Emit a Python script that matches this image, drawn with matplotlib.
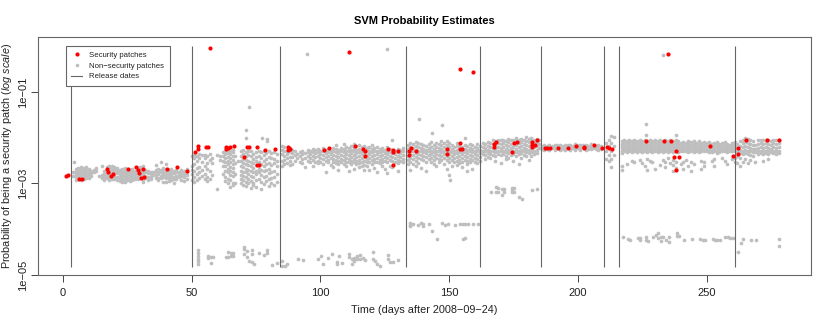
import numpy as np
import matplotlib
matplotlib.use("Agg")
from matplotlib import pyplot as plt
from matplotlib.lines import Line2D

plt.rcParams["font.family"] = ["Liberation Sans", "DejaVu Sans"]
plt.rcParams["mathtext.fontset"] = "custom"
plt.rcParams["mathtext.it"] = "Liberation Sans:italic"
plt.rcParams["mathtext.rm"] = "Liberation Sans"

# all probabilities below are log10(p) * 100
release_days = [3, 50, 84.3, 133.2, 162, 185.7, 210, 216, 261]

sec_days = [1.2, 2, 6.3, 7.3, 17.2, 17.4, 18.5, 19.3, 25.4, 28.4, 29.3, 29.4, 31.2, 30.4, 31.3, 40.3, 44.3, 48.3,
            51.4, 52.3, 52.3, 55.4, 56.2, 63.2, 63.2, 64, 64.9, 66.3, 71.3, 72.2, 70.3, 75.4, 78.3, 82.5, 75.2, 76.2,
            87.3, 87.3, 88.2, 87.7, 101.3, 103.3, 113.3, 116.4, 117.3, 117.3, 126.3, 128.3, 128.3, 130.3, 128.3,
            135.3, 134.4, 134.4, 137.2, 149.3, 149.3, 154.3, 154.3, 155.2,
            167.3, 168.3, 167.3, 175.3, 176.4, 174.3, 182.3, 184.2, 182.3, 183.3, 182.3,
            187.2, 188.2, 189.3, 192.3, 196.3, 199.3, 202.3, 202.3, 206.3, 209.3, 211.2, 212.2, 213.3,
            226.3, 233.3, 236.3, 251.2, 238.2, 237.4, 239.3, 238.2, 260.4,
            262.3, 262.3, 265.3, 273.4, 278.3, 57.1, 111.1, 154.2, 159.3, 235]
sec_vals = [-283, -282, -291, -290, -269, -275, -283, -280, -268, -265, -271, -277, -268, -289, -286, -268, -264, -272,
            -232, -219, -224, -220, -221, -224, -220, -222, -220, -219, -221, -221, -243, -221, -226, -224, -259, -259,
            -220, -226, -224, -222, -227, -222, -219, -224, -230, -240, -224, -226, -231, -228, -259,
            -222, -229, -237, -230, -225, -236, -211, -225, -225,
            -213, -210, -220, -211, -210, -232, -210, -205, -220, -217, -217,
            -223, -223, -223, -222, -222, -219, -221, -223, -216, -222, -221, -222, -224,
            -208, -208, -208, -218, -230, -243, -243, -270, -240,
            -222, -235, -204, -205, -204, -5, -12, -49, -57, -16]

# stray grey points far from the main band
stray_days = [94.8, 125.9, 233, 72.3, 71.2, 71.2, 77.3, 79.2, 79.2, 4.3, 150.3, 147.3, 143.5, 138.3, 226.3, 226.3, 238.3]
stray_vals = [-16, -7, -20, -132, -184, -200, -200, -202, -208, -252, -293, -173, -190, -160, -169, -194, -194]

# lower clusters
low_days = [52.3, 52.3, 52.3, 52.3, 52.3, 52.3, 56.5, 56.5, 57.4, 57.4, 58.4, 63.3, 64.2, 64.2, 65.1, 65.1, 66.1, 66.1,
            70.3, 70.3, 70.3, 71.4, 71.4, 73.3, 73.3, 72.4, 74.2, 73.3, 76.3, 78.2, 79.4, 79.4, 81.3, 83.3,
            85.1, 85, 86.2, 87.2, 91.2, 93.4, 99.2, 100.2, 101.1, 103.1, 104.4, 106.3, 106.3, 107.4, 108.4,
            111.2, 111.2, 112.1, 112.1, 113.2, 113.2, 114.1, 114.1, 115.4, 115.4, 116.4, 117.3, 120.3, 120.3, 121.2, 122.1, 123.1,
            126.1, 126.1, 127, 128.3, 130.3,
            134.8, 134.8, 134.8, 136.1, 138, 139.1, 140, 140, 142.3, 143.2, 145.3, 147.4, 148.4, 149.4, 152.3, 154.2, 155.3, 156.2, 157.5, 159.4, 161.4, 155.3, 156.2,
            166.3, 168.2, 168.2, 169.1, 169.1, 170.4, 170.4, 171.3, 171.3, 174.3, 174.3, 174.3, 175.3, 175.3, 177.3, 178.2, 182.3, 184.3,
            217.4, 219.4, 220.3, 223.3, 224.2, 224.2, 226.4, 226.4, 227.4, 229.3, 230.2, 231.3, 231.3, 232.3, 232.3, 233.2, 234.3, 235.3, 235.3,
            238.4, 238.4, 239.3, 241.4, 244.4, 247.5, 248.5, 249.4, 252.4, 253.3, 254.2, 255.2, 257.2, 258.2, 259.1, 260.4,
            262.4, 263.4, 264.3, 267.3, 269.2, 278.3, 278.3]
low_vals = [-446, -452, -459, -466, -470, -477, -459, -462, -460, -473, -460, -461, -449, -461, -452, -459, -452, -459,
            -439, -444, -455, -448, -461, -446, -455, -470, -477, -472, -452, -457, -446, -452, -479, -473,
            -470, -481, -481, -476, -466, -468, -466, -459, -475, -462, -455, -472, -477, -459, -473,
            -455, -461, -466, -475, -462, -470, -459, -466, -457, -466, -462, -468, -450, -466, -470, -477, -481,
            -457, -466, -472, -472, -468,
            -386, -390, -393, -388, -390, -386, -388, -393, -388, -404, -422, -387, -390, -389, -391, -389, -389, -388, -388, -388, -388, -421, -420,
            -318, -307, -319, -309, -318, -311, -326, -312, -318, -309, -315, -319, -309, -319, -330, -335, -315, -313,
            -417, -421, -424, -419, -419, -424, -417, -424, -426, -417, -412, -408, -419, -417, -425, -417, -423, -417, -428,
            -408, -414, -415, -423, -421, -421, -424, -424, -421, -423, -423, -423, -417, -417, -419, -419,
            -450, -430, -421, -424, -424, -421, -436]

# main grey band, one list per day starting at the given day
seg1_start = 4
seg1_cols = [[-276, -283], [-268, -274, -280, -286, -292], [-266, -272, -278, -284, -290], [-264, -270, -276, -282, -288, -293],
             [-266, -272, -279, -285, -291], [-264, -270, -277, -283, -289], [-268, -274, -281, -287], [-272, -278, -284],
             [-270, -276], [-266, -272], [-284], [-262, -282, -288], [-272, -280, -286, -292],
             [-264, -270, -276, -282, -288], [-262, -268, -274, -280, -286, -292], [-262, -267, -273, -279, -285, -290], [-264, -270, -276, -284, -291],
             [-266, -272, -278, -285, -292], [-270, -276, -282, -288, -294], [-268, -274, -280, -286, -292, -296], [-266, -272, -278, -284, -290, -297],
             [-268, -274, -281, -287, -293], [-270, -276, -282, -288, -295], [-268, -275, -281, -287, -292], [-272, -278, -284, -290],
             [-266, -272, -279, -285, -291], [-264, -270, -276, -282], [-262, -272, -278, -284, -290, -296], [-270, -276, -283, -289], [-272, -278, -285, -292],
             [-274, -280, -286, -291], [-276, -282], [-260, -270, -276, -282, -288], [-268, -274, -280, -287, -293], [-254, -270, -276, -283, -289],
             [-266, -272, -279, -285, -296], [-258, -268, -274, -281, -288, -297], [-270, -276, -282, -289, -295], [-268, -274, -281, -288, -293],
             [-272, -278, -285, -291, -298], [-270, -276, -283, -290], [-274, -280, -286], [-270, -277, -283, -292], [-272, -279, -286, -294],
             [-268, -275, -282, -290]]

seg2_start = 50
seg2_cols = [[-240, -262, -270, -280, -292], [-237, -244, -258, -272, -285, -296], [-240, -250, -266, -280, -292], [-235, -245, -265, -275, -288],
             [-238, -252, -270, -283], [-237, -244, -262, -280, -290], [-240, -255, -268, -285, -295], [-236, -248, -272, -290],
             [-244, -256, -282], [], [-312, -238], [-240, -248], [-232, -240, -250, -262, -280],
             [-228, -236, -244, -252, -262, -272, -285, -295], [-226, -234, -242, -250, -258, -268, -276, -290, -300], [-228, -236, -244, -254, -264, -272, -282, -292, -308],
             [-226, -232, -240, -248, -258, -266, -274, -284, -298, -304], [-240, -255, -280, -300], [-250], [-230, -240, -250, -262, -272, -282, -290, -300],
             [-226, -236, -246, -256, -264, -274, -284, -292, -304], [-232, -240, -248, -258, -268, -276, -286, -296, -306], [-228, -238, -250, -260, -270, -280, -290, -300],
             [-230, -240, -252, -262, -272, -284, -294, -310], [-236, -246, -256, -266, -276, -286, -298, -304], [-232, -242, -250, -260, -272, -280, -292, -308],
             [-228, -240, -254, -268, -276, -290], [-232, -244, -258, -270, -282, -296, -312], [-230, -238, -250, -262, -272, -286, -302], [-234, -246, -258, -270, -284, -294],
             [-230, -242, -256, -268, -278, -290, -306], [-234, -244, -260, -276, -288, -298], [-232, -246, -256, -272, -286, -304], [-236, -250, -262, -280, -296]]

seg3_start = 85
seg3_cols = [[-218, -226, -236, -250, -262], [-220, -230, -240, -248, -258], [-228, -236, -244, -256], [-232, -242, -250, -260],
             [-226, -234, -242, -258], [-230, -238, -250], [-236, -244], [-232, -240, -252], [-228, -236, -246, -256], [-234, -244, -264],
             [-226, -232, -240, -250], [-228, -236, -244, -254], [-224, -232, -240, -248, -262], [-226, -234, -242, -252], [-224, -232, -240, -250, -256],
             [-228, -236, -244, -252], [-222, -230, -238, -246, -258], [-226, -234, -242, -250, -274], [-224, -232, -240, -248, -254], [-228, -236, -244, -260],
             [-222, -230, -238, -246, -254, -264], [-216, -224, -232, -240, -248, -256], [-226, -234, -242, -250, -258, -270], [-222, -230, -238, -246, -254],
             [-214, -224, -232, -240, -248, -258], [-220, -228, -236, -244, -252, -262], [-222, -230, -238, -246, -254, -272], [-218, -226, -234, -242, -250, -258],
             [-214, -222, -230, -238, -246, -254, -268], [-218, -226, -234, -242, -250, -258], [-216, -224, -232, -240, -248, -256, -264], [-220, -228, -236, -244, -252, -262],
             [-218, -226, -234, -242, -250, -260, -270], [-222, -230, -238, -246, -254, -262], [-220, -228, -236, -244, -252, -270], [-216, -224, -232, -240, -248, -258],
             [-222, -230, -238, -246, -254, -266], [-220, -228, -236, -244, -252, -276], [-224, -232, -240, -248, -256], [-222, -230, -238, -246, -254, -262],
             [-226, -234, -242, -250, -268], [-220, -228, -236, -244, -252, -278], [-224, -232, -240, -248, -262], [-206, -226, -234, -242, -250, -264], [-228, -236, -244, -252],
             [-224, -232, -240, -248, -256, -272], [-226, -234, -242, -250], [-222, -230, -238, -246, -254]]

seg4_start = 134
seg4_cols = [[-216, -224, -232, -240, -248, -258], [-212, -220, -228, -236, -244, -252, -270], [-214, -222, -230, -238, -246, -258], [-210, -218, -226, -234, -242, -250, -262],
             [-212, -220, -228, -236, -244, -256], [-214, -222, -230, -238, -246, -266], [-216, -224, -232, -240, -248], [-218, -226, -234, -242, -252, -272], [-214, -222, -230, -238, -246],
             [-210, -220, -228, -236, -244, -254], [-216, -224, -232, -240, -248, -258], [-212, -220, -228, -236, -244, -262], [-214, -222, -230, -238, -246, -254], [-208, -216, -224, -232, -240, -248],
             [-212, -220, -228, -236, -244, -258], [-208, -216, -224, -232, -240, -248, -268], [-212, -220, -228, -236, -244, -252, -282], [-216, -224, -232, -240, -248, -262], [-220, -228, -236, -244, -254],
             [-212, -218, -226, -234, -242, -250, -260], [-216, -224, -232, -240, -248, -256], [-220, -228, -236, -244, -252, -264], [-200, -216, -224, -232, -240, -248], [-218, -226, -234, -242, -250, -258, -272],
             [-214, -222, -230, -238, -246, -254], [-216, -224, -232, -240, -248, -268], [-220, -228, -236, -244, -252], [-214, -222, -230, -238, -246, -256], [-218, -226, -234, -242, -250]]

seg5_start = 163
seg5_cols = [[-212, -220, -228, -236], [-214, -222, -230, -238, -246], [-210, -218, -226, -234, -242], [-212, -220, -228, -236, -244], [-206, -214, -222, -230, -238],
             [-208, -216, -224, -232, -240, -250], [-204, -212, -220, -228, -236], [-206, -214, -222, -230, -238, -256], [-204, -212, -220, -228, -236], [-208, -216, -224, -232, -240, -246],
             [-202, -210, -218, -226, -234, -244], [-206, -214, -222, -230, -238], [-204, -212, -220, -228, -236, -250], [-200, -208, -216, -224, -232, -240], [-204, -212, -220, -228, -236, -258],
             [-202, -210, -218, -226, -234, -244], [-206, -214, -222, -230, -238], [-198, -208, -216, -224, -232, -240], [-202, -210, -218, -226, -234, -248], [-200, -208, -216, -224, -232, -240],
             [-204, -212, -220, -228, -236], [-202, -210, -218, -226, -234], [-206, -214, -222]]

seg6_start = 186
seg6_cols = [[-218, -224], [-216, -222, -227], [-218, -224], [-216, -222, -226], [-218, -223], [-215, -221, -226], [-217, -223], [-216, -222, -226], [-218, -224], [-215, -221, -226],
             [-217, -222], [-216, -222, -227], [-218, -223], [-214, -220, -226], [-216, -222], [-215, -221, -226], [-217, -223], [-216, -222, -227], [-218, -224], [-214, -220, -225],
             [-216, -222], [-218, -224], [-216, -222, -226], [-218, -224]]

seg7_start = 211
seg7_cols = [[-211, -229, -247], [-204, -218, -237, -251], [-196, -211, -229, -247, -264], [-199, -218, -237]]

seg8_start = 217
seg8_cols = [[-208, -213, -218, -223, -228, -233, -262, -270], [-206, -212, -218, -224, -230], [-208, -214, -220, -226, -232, -258], [-206, -212, -218, -224, -230], [-208, -214, -220, -226, -232, -250],
             [-206, -212, -218, -224, -230, -254], [-208, -214, -220, -226, -232], [-206, -212, -218, -224, -230, -248], [-208, -214, -220, -226, -232, -256], [-206, -212, -218, -224, -230, -262],
             [-208, -214, -220, -226, -232, -246, -270], [-206, -212, -218, -224, -230, -250], [-208, -214, -220, -226, -232, -254], [-206, -212, -218, -224, -230, -268], [-208, -214, -220, -226, -232],
             [-206, -212, -218, -224, -230, -260], [-208, -214, -220, -226, -232, -248], [-206, -212, -218, -224, -230, -252, -264], [-208, -214, -220, -226, -232, -244], [-206, -212, -218, -224, -230, -256],
             [-208, -214, -220, -226, -232, -248, -260, -272], [-206, -212, -218, -224, -230, -254, -266], [-208, -214, -220, -226, -232], [-212, -218, -224, -230, -258], [-210, -216, -222, -228, -252, -268],
             [-212, -218, -224, -230, -248], [-208, -214, -220, -226, -232, -262], [-210, -216, -222, -228, -252, -272], [-208, -214, -220, -226, -232, -258], [-212, -218, -224, -230],
             [-208, -214, -220, -226, -232], [-212, -218, -224, -230, -250, -268], [-210, -216, -222, -228, -254, -262], [-212, -218, -224, -230], [-210, -216, -222, -228, -232],
             [-214, -220, -226, -232, -250], [-212, -218, -224, -230, -246, -262], [-210, -216, -222, -228, -234], [-214, -220, -226, -232], [-212, -218, -224, -230, -244],
             [-210, -216, -222, -228, -250], [-214, -220, -226, -232, -258], [-216, -222, -228], [-212, -218, -224, -230, -246], [-210, -216, -222, -228, -244, -252]]

seg9_start = 262
seg9_cols = [[-214, -226, -232, -240, -256], [-208, -218, -226, -234, -244, -262], [-204, -212, -220, -228, -236, -252], [-200, -210, -218, -226, -234, -246], [-202, -212, -220, -228, -236, -256],
             [-206, -214, -222, -230, -238, -248], [-208, -216, -224, -232, -240], [-216, -224, -232, -252], [-206, -214, -222, -230, -236], [-204, -212, -220, -228, -234],
             [-206, -214, -222, -230, -236, -250], [-204, -212, -220, -228, -234], [-206, -214, -222, -230, -236, -246], [-208, -216, -224, -232], [-204, -212, -220, -228, -234],
             [-206, -214, -222, -230, -236], [-204, -212, -220, -228, -234]]

segments = [(seg1_start, seg1_cols), (seg2_start, seg2_cols), (seg3_start, seg3_cols), (seg4_start, seg4_cols), (seg5_start, seg5_cols),
            (seg6_start, seg6_cols), (seg7_start, seg7_cols), (seg8_start, seg8_cols), (seg9_start, seg9_cols)]

grey_x = list(stray_days) + list(low_days)
grey_y = list(stray_vals) + list(low_vals)
for start, cols in segments:
    for i, col in enumerate(cols):
        for v in col:
            grey_x.append(start + i)
            grey_y.append(v)

grey_p = 10.0 ** (np.array(grey_y) / 100.0)
sec_p = 10.0 ** (np.array(sec_vals) / 100.0)

fig = plt.figure(figsize=(8.3, 3.23), dpi=100)
ax = fig.add_axes([38 / 830, 1 - 275 / 323, (810.5 - 38) / 830, (275 - 37.5) / 323])

ax.scatter(grey_x, grey_p, s=7, color="#BEBEBE", linewidths=0, zorder=2)
ax.vlines(release_days, 1.5e-5, 1.0, color="#666666", lw=0.8, zorder=3)
ax.scatter(sec_days, sec_p, s=9, color="#FF0000", linewidths=0, zorder=4)

ax.set_yscale("log")
ax.set_xlim(-9.71, 290.4)
ax.set_ylim(1e-5, 10 ** 0.19)
ax.set_xticks([0, 50, 100, 150, 200, 250])
ax.set_yticks([1e-1, 1e-3, 1e-5])
ax.set_yticklabels(["1e\u221201", "1e\u221203", "1e\u221205"], rotation=90, va="center")
ax.minorticks_off()
ax.tick_params(labelsize=8, length=5, width=0.7, color="#444444", labelcolor="#222222", pad=3)
ax.tick_params(axis="x", pad=4.5)
ax.tick_params(axis="y", pad=2)
for sp in ax.spines.values():
    sp.set_linewidth(0.8)
    sp.set_color("#666666")

ax.set_title("SVM Probability Estimates", fontsize=8, fontweight="bold", pad=10)
ax.set_xlabel("Time (days after 2008\u221209\u221224)", fontsize=7.8, labelpad=5, color="#222222")
ax.set_ylabel(r"Probability of being a security patch $\mathit{(log\ scale)}$", fontsize=7.8, color="#222222", va="center")
ax.yaxis.set_label_coords(-0.0400, 0.503)

handles = [Line2D([], [], ls="", marker="o", ms=3.0, color="#FF0000", mew=0),
           Line2D([], [], ls="", marker="o", ms=2.6, color="#BEBEBE", mew=0),
           Line2D([], [], color="#666666", lw=0.8)]
leg = ax.legend(handles, ["Security patches", "Non\u2212security patches", "Release dates"],
                loc="upper left", bbox_to_anchor=((66 - 38) / 772.5, 1 - (46 - 37.5) / 237.5), borderaxespad=0,
                fontsize=5.6, fancybox=False, framealpha=1, edgecolor="#666666", handlelength=1.4,
                handletextpad=0.9, labelspacing=0.42, borderpad=0.7, labelcolor="#222222")
leg.get_frame().set_linewidth(0.8)
leg.set_zorder(5)

fig.savefig("out.png", dpi=100)
